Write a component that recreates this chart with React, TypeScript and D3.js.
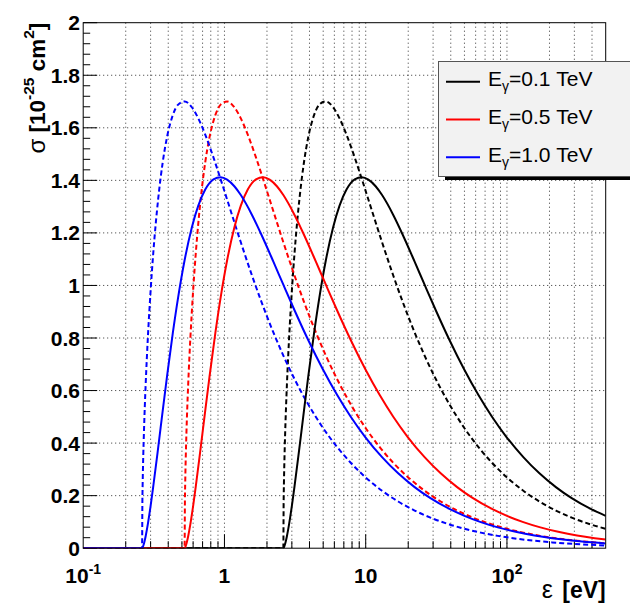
import React from "react";
import * as d3 from "d3";

// ---- data ----
const epsBlack = [0.1, 2.6112, 2.6243, 2.6373, 2.6634, 2.6895, 2.7287, 2.7679, 2.8201, 2.8723, 3.0029, 3.1334, 3.3946, 3.6557, 3.9168, 4.3085, 4.7002, 5.2224, 5.8752, 6.528, 7.3114, 8.3558, 9.4003, 10.4448, 11.7504, 13.056, 15.6672, 18.2784, 22.1952, 26.112, 31.3344, 39.168, 49.6128, 62.6688, 78.336, 99.2256, 130.56, 169.728, 221.952, 287.232, 391.68, 500.0448];
const epsRed = [0.1, 0.5222, 0.5249, 0.5275, 0.5327, 0.5379, 0.5457, 0.5536, 0.564, 0.5745, 0.6006, 0.6267, 0.6789, 0.7311, 0.7834, 0.8617, 0.94, 1.0445, 1.175, 1.3056, 1.4623, 1.6712, 1.8801, 2.089, 2.3501, 2.6112, 3.1334, 3.6557, 4.439, 5.2224, 6.2669, 7.8336, 9.9226, 12.5338, 15.6672, 19.8451, 26.112, 33.9456, 44.3904, 57.4464, 78.336, 100.009, 130.56, 172.344, 235.008, 313.344, 417.792, 500.0448];
const epsBlue = [0.1, 0.2611, 0.2624, 0.2637, 0.2663, 0.269, 0.2729, 0.2768, 0.282, 0.2872, 0.3003, 0.3133, 0.3395, 0.3656, 0.3917, 0.4308, 0.47, 0.5222, 0.5875, 0.6528, 0.7311, 0.8356, 0.94, 1.0445, 1.175, 1.3056, 1.5667, 1.8278, 2.2195, 2.6112, 3.1334, 3.9168, 4.9613, 6.2669, 7.8336, 9.9226, 13.056, 16.9728, 22.1952, 28.7232, 39.168, 50.0045, 65.28, 86.1696, 117.504, 156.672, 208.896, 250.0224, 339.456, 500.0448];

// head-on (dashed) cross sections, 10^-25 cm^2
const headOnBlack = [0, 0, 0.1768, 0.2506, 0.3559, 0.4373, 0.5377, 0.6226, 0.7205, 0.8059, 0.9827, 1.1227, 1.3292, 1.4689, 1.5634, 1.6481, 1.6883, 1.7003, 1.6782, 1.6358, 1.5739, 1.4872, 1.4039, 1.3269, 1.2405, 1.1643, 1.0377, 0.9375, 0.8213, 0.7331, 0.6438, 0.5474, 0.4595, 0.3855, 0.3252, 0.271, 0.2187, 0.1777, 0.1434, 0.1164, 0.0904, 0.0739];
const headOnRed = [0, 0, 0.1768, 0.2506, 0.3559, 0.4373, 0.5377, 0.6226, 0.7205, 0.8059, 0.9827, 1.1227, 1.3292, 1.4689, 1.5634, 1.6481, 1.6883, 1.7003, 1.6782, 1.6358, 1.5739, 1.4872, 1.4039, 1.3269, 1.2405, 1.1643, 1.0377, 0.9375, 0.8213, 0.7331, 0.6438, 0.5474, 0.4595, 0.3855, 0.3252, 0.271, 0.2187, 0.1777, 0.1434, 0.1164, 0.0904, 0.0739, 0.0592, 0.0469, 0.0361, 0.0283, 0.0221, 0.0189];
const headOnBlue = [0, 0, 0.1768, 0.2506, 0.3559, 0.4373, 0.5377, 0.6226, 0.7205, 0.8059, 0.9827, 1.1227, 1.3292, 1.4689, 1.5634, 1.6481, 1.6883, 1.7003, 1.6782, 1.6358, 1.5739, 1.4872, 1.4039, 1.3269, 1.2405, 1.1643, 1.0377, 0.9375, 0.8213, 0.7331, 0.6438, 0.5474, 0.4595, 0.3855, 0.3252, 0.271, 0.2187, 0.1777, 0.1434, 0.1164, 0.0904, 0.0739, 0.0592, 0.0469, 0.0361, 0.0283, 0.0221, 0.0189, 0.0145, 0.0104];

// isotropic (solid) cross sections, 10^-25 cm^2
const isoBlack = [0, 0, 0.0012, 0.0033, 0.0092, 0.0167, 0.0302, 0.0457, 0.0687, 0.0937, 0.1622, 0.2351, 0.3829, 0.5236, 0.652, 0.8185, 0.9547, 1.0958, 1.2208, 1.3038, 1.3649, 1.4035, 1.412, 1.4029, 1.3775, 1.344, 1.2684, 1.1931, 1.0906, 1.0028, 0.9057, 0.7923, 0.6818, 0.5836, 0.5003, 0.4231, 0.3464, 0.2849, 0.2324, 0.1904, 0.1493, 0.123];
const isoRed = [0, 0, 0.0012, 0.0033, 0.0092, 0.0167, 0.0302, 0.0457, 0.0687, 0.0937, 0.1622, 0.2351, 0.3829, 0.5236, 0.652, 0.8185, 0.9547, 1.0958, 1.2208, 1.3038, 1.3649, 1.4035, 1.412, 1.4029, 1.3775, 1.344, 1.2684, 1.1931, 1.0906, 1.0028, 0.9057, 0.7923, 0.6818, 0.5836, 0.5003, 0.4231, 0.3464, 0.2849, 0.2324, 0.1904, 0.1493, 0.123, 0.0993, 0.0792, 0.0614, 0.0484, 0.0381, 0.0327];
const isoBlue = [0, 0, 0.0012, 0.0033, 0.0092, 0.0167, 0.0302, 0.0457, 0.0687, 0.0937, 0.1622, 0.2351, 0.3829, 0.5236, 0.652, 0.8185, 0.9547, 1.0958, 1.2208, 1.3038, 1.3649, 1.4035, 1.412, 1.4029, 1.3775, 1.344, 1.2684, 1.1931, 1.0906, 1.0028, 0.9057, 0.7923, 0.6818, 0.5836, 0.5003, 0.4231, 0.3464, 0.2849, 0.2324, 0.1904, 0.1493, 0.123, 0.0993, 0.0792, 0.0614, 0.0484, 0.0381, 0.0327, 0.0252, 0.0181];

const legendLabels = ["0.1 TeV", "0.5 TeV", "1.0 TeV"];
const seriesColors = ["#000000", "#ff0000", "#0000ff"];
const yTickValues = [0, 0.2, 0.4, 0.6, 0.8, 1, 1.2, 1.4, 1.6, 1.8, 2];
const yTickLabels = ["0", "0.2", "0.4", "0.6", "0.8", "1", "1.2", "1.4", "1.6", "1.8", "2"];
const xMajorValues = [0.1, 1, 10, 100];
const xMajorBase = ["10", "1", "10", "10"];
const xMajorExp = ["-1", "", "", "2"];

const W = 630, H = 608;
const L = 83.2, R = 605.7, T = 22.7, B = 548.2;
const FONT = "'Liberation Sans', Arial, Helvetica, sans-serif";

export default function App() {
  const x = d3.scaleLog().domain([0.1, 500]).range([L, R]);
  const y = d3.scaleLinear().domain([0, 2]).range([B, T]);
  const line = d3
    .line<[number, number]>()
    .x((d) => x(d[0]))
    .y((d) => y(d[1]))
    .curve(d3.curveMonotoneX);

  const series = [
    { eps: epsBlack, iso: isoBlack, head: headOnBlack, color: seriesColors[0] },
    { eps: epsRed, iso: isoRed, head: headOnRed, color: seriesColors[1] },
    { eps: epsBlue, iso: isoBlue, head: headOnBlue, color: seriesColors[2] },
  ];

  const xMinor = x.ticks().filter((v) => v > 0.1 && v < 500);
  const yMinor = d3.range(0, 51).map((i) => i * 0.04).filter((v, i) => i % 5 !== 0);

  return (
    <div style={{ position: "absolute", left: 0, top: 0 }}>
      <svg width={W} height={H} style={{ display: "block", background: "#fff" }}>
        <defs>
          <clipPath id="frame">
            <rect x={L} y={T} width={R - L} height={B - T} />
          </clipPath>
        </defs>
        {/* grid */}
        <g stroke="#000" strokeWidth={1} strokeDasharray="1,3" opacity={0.8}>
          {xMinor.map((v, i) => (
            <line key={"gx" + i} x1={x(v)} x2={x(v)} y1={T} y2={B} />
          ))}
          {yTickValues.slice(1, -1).map((v, i) => (
            <line key={"gy" + i} x1={L} x2={R} y1={y(v)} y2={y(v)} />
          ))}
        </g>
        {/* ticks */}
        <g stroke="#000" strokeWidth={1}>
          {yTickValues.map((v, i) => (
            <line key={"ty" + i} x1={L} x2={L + 14} y1={y(v)} y2={y(v)} />
          ))}
          {yMinor.map((v, i) => (
            <line key={"tym" + i} x1={L} x2={L + 7} y1={y(v)} y2={y(v)} />
          ))}
          {xMinor.map((v, i) => {
            const major = xMajorValues.some((m) => Math.abs(m - v) < 1e-9);
            return <line key={"tx" + i} x1={x(v)} x2={x(v)} y1={B} y2={B - (major ? 14 : 7)} />;
          })}
        </g>
        {/* curves */}
        <g clipPath="url(#frame)" fill="none" strokeWidth={2}>
          {series.map((s, i) => (
            <path
              key={"d" + i}
              d={line(s.eps.map((e, j) => [e, s.head[j]] as [number, number])) || ""}
              stroke={s.color}
              strokeDasharray="5,3"
            />
          ))}
          {series.map((s, i) => (
            <path
              key={"s" + i}
              d={line(s.eps.map((e, j) => [e, s.iso[j]] as [number, number])) || ""}
              stroke={s.color}
            />
          ))}
        </g>
        {/* frame */}
        <rect x={L} y={T} width={R - L} height={B - T} fill="none" stroke="#000" strokeWidth={1} />
        {/* y tick labels */}
        <g fontFamily={FONT} fontWeight="bold" fontSize={21} textAnchor="end">
          {yTickValues.map((v, i) => (
            <text key={"yl" + i} x={80} y={y(v)} dy="0.36em">
              {yTickLabels[i]}
            </text>
          ))}
        </g>
        {/* x tick labels */}
        <g fontFamily={FONT} fontWeight="bold" fontSize={21} textAnchor="middle">
          {xMajorValues.map((v, i) => (
            <text key={"xl" + i} x={x(v)} y={582.5}>
              {xMajorBase[i]}
              {xMajorExp[i] ? (
                <tspan fontSize={14} dy={-9}>
                  {xMajorExp[i]}
                </tspan>
              ) : null}
            </text>
          ))}
        </g>
        {/* axis titles */}
        <text x={R} y={598} textAnchor="end" fontFamily={FONT} fontWeight="bold" fontSize={23}>
          <tspan fontWeight="normal" fontSize={25}>ε</tspan>
          <tspan dx={3}> [eV]</tspan>
        </text>
        <text
          transform={`translate(45,${T}) rotate(-90)`}
          textAnchor="end"
          fontFamily={FONT}
          fontWeight="bold"
          fontSize={22.5}
        >
          <tspan fontWeight="normal" fontSize={24}>σ</tspan> [10
          <tspan fontSize={15.5} dy={-11}>-25</tspan>
          <tspan dy={11}> cm</tspan>
          <tspan fontSize={15.5} dy={-11}>2</tspan>
          <tspan dy={11}>]</tspan>
        </text>
        {/* legend */}
        <rect x={445} y={66} width={200} height={114} fill="#000" />
        <rect x={438.5} y={61.5} width={200} height={115} fill="#f2f2f2" stroke="#555" strokeWidth={1} />
        {legendLabels.map((lab, i) => {
          const ly = 81.7 + i * 37.8;
          return (
            <g key={"lg" + i}>
              <line x1={446} x2={480} y1={ly} y2={ly} stroke={seriesColors[i]} strokeWidth={2} />
              <text x={488} y={ly + 4.5} fontFamily={FONT} fontSize={21}>
                E
                <tspan fontSize={14} dy={5}>γ</tspan>
                <tspan dy={-5}>={lab}</tspan>
              </text>
            </g>
          );
        })}
      </svg>
    </div>
  );
}
